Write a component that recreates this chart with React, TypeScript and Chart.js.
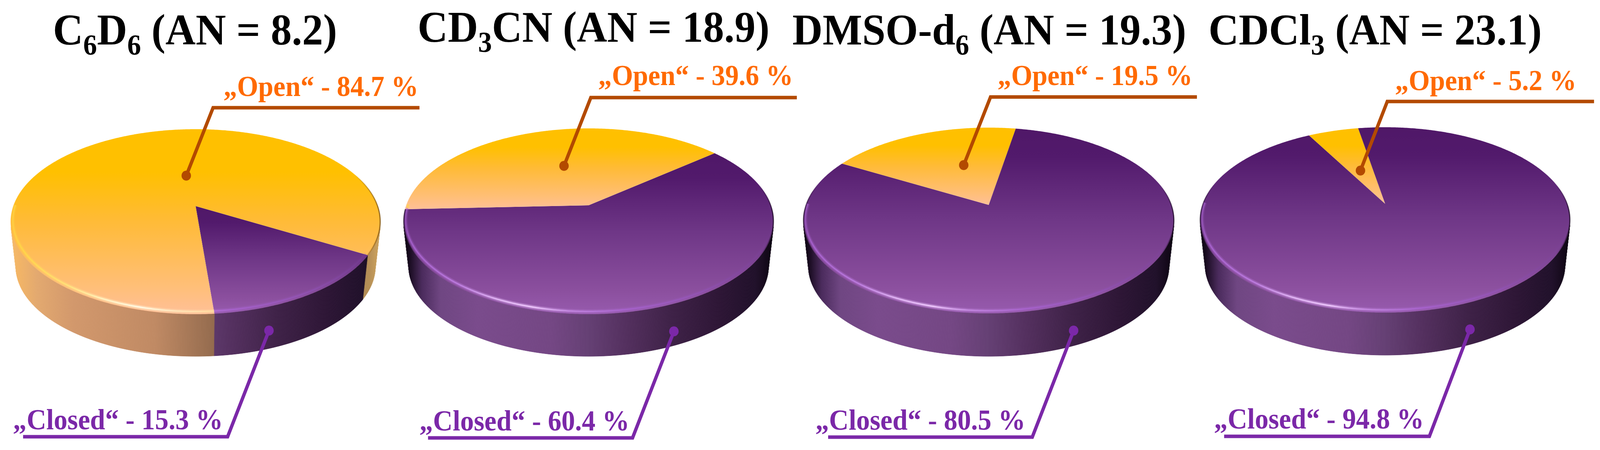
import Chart from "chart.js/auto";
import { useEffect, useRef } from "react";

const solvents = ["C_6D_6", "CD_3CN", "DMSO-d_6", "CDCl_3"];
const acceptorNumbers = ["8.2", "18.9", "19.3", "23.1"];
const closedShare = [15.3, 60.4, 80.5, 94.8];
const openShare = [84.7, 39.6, 19.5, 5.2];
// where the closed slice starts, degrees clockwise from the back of the disc
const rotations = [120, 50.1, 9.9, 350];

const discs = [
  { cx: 524.5, rx: 496.5, top: 331, apexY: 528, rimBottom: 805, wallBottom: 913 },
  { cx: 1580, rx: 497, top: 329, apexY: 526, rimBottom: 805, wallBottom: 913 },
  { cx: 2654, rx: 498, top: 327, apexY: 525, rimBottom: 803, wallBottom: 913 },
  { cx: 3718, rx: 497, top: 326, apexY: 522, rimBottom: 801, wallBottom: 910 },
];

const titleAt = [
  { x: 142, y: 114 },
  { x: 1121, y: 107 },
  { x: 2127, y: 114 },
  { x: 3244, y: 114 },
];
const openCallouts = [
  { x: 600, y: 246.5, lineY: 276, elbow: 572, end: 1126, dotX: 500, dotY: 450 },
  { x: 1606, y: 218.5, lineY: 250, elbow: 1586, end: 2139, dotX: 1514, dotY: 425 },
  { x: 2678, y: 218.5, lineY: 248.5, elbow: 2659, end: 3213, dotX: 2587, dotY: 423 },
  { x: 3745, y: 231.5, lineY: 260, elbow: 3724, end: 4279, dotX: 3652, dotY: 437 },
];
const closedCallouts = [
  { x: 35, y: 1100, lineY: 1119, elbow: 611, end: 62, dotX: 722, dotY: 847 },
  { x: 1126, y: 1103, lineY: 1122, elbow: 1698, end: 1149, dotX: 1809, dotY: 849 },
  { x: 2189, y: 1101, lineY: 1120, elbow: 2771, end: 2223, dotX: 2882, dotY: 847 },
  { x: 3259, y: 1098, lineY: 1118, elbow: 3837, end: 3286, dotX: 3946, dotY: 844 },
];

type Stop = [number, string];
// colour ramps, index 0 is closed and index 1 is open
const faceRamps: Stop[][] = [
  [[0, "#501868"], [0.15, "#521a6c"], [0.49, "#6f3787"], [0.86, "#8c509f"], [1, "#975bae"]],
  [[0, "#ffc000"], [0.23, "#ffc000"], [0.5, "#ffbb38"], [0.85, "#ffbf78"], [1, "#ffc098"]],
];
const wallRamps: Stop[][] = [
  [[0, "#0c0410"], [0.015, "#170a1e"], [0.05, "#4a2a5c"], [0.1, "#6f4682"], [0.2, "#7a4b8c"], [0.4, "#744784"], [0.5, "#654074"], [0.6, "#54305f"], [0.72, "#3f2248"], [0.85, "#2e1636"], [0.95, "#20102a"], [1, "#0c0410"]],
  [[0, "#f5bb6c"], [0.02, "#f3b566"], [0.07, "#e3a96f"], [0.17, "#d2986c"], [0.39, "#c08a64"], [0.55, "#946b4e"], [0.9, "#a27e50"], [0.97, "#b68f56"], [1, "#d2a860"]],
];
const glintRamps: Stop[][] = [
  [[0, "rgba(170,100,210,0.4)"], [0.03, "rgba(170,100,210,0.85)"], [0.15, "rgba(190,125,225,0.9)"], [0.25, "rgba(225,180,245,0.95)"], [0.35, "rgba(235,195,250,1)"], [0.45, "rgba(200,140,230,0.8)"], [0.6, "rgba(170,100,210,0.75)"], [0.8, "rgba(150,85,190,0.5)"], [0.92, "rgba(130,70,170,0.25)"], [1, "rgba(130,70,170,0)"]],
  [[0, "rgba(255,214,70,0.5)"], [0.03, "rgba(255,214,70,0.9)"], [0.15, "rgba(255,225,120,0.95)"], [0.25, "rgba(255,240,190,1)"], [0.35, "rgba(255,248,225,1)"], [0.45, "rgba(255,235,190,0.8)"], [0.6, "rgba(255,220,150,0.7)"], [1, "rgba(255,210,100,0)"]],
];
const edgeRamps: Stop[][] = [
  [[0, "rgba(15,5,20,0.7)"], [0.015, "rgba(15,5,20,0.35)"], [0.04, "rgba(15,5,20,0)"], [0.96, "rgba(15,5,20,0)"], [0.985, "rgba(15,5,20,0.35)"], [1, "rgba(15,5,20,0.7)"]],
  [[0, "rgba(120,80,20,0)"], [0.93, "rgba(120,80,20,0)"], [0.97, "rgba(120,80,20,0.45)"], [1, "rgba(120,80,20,0.8)"]],
];

const PAGE_WIDTH = 4295;
const PAGE_HEIGHT = 1153;
const BOX = { left: -530, top: 300, width: 1060, height: 640 };
const BOTTOM_SCALE = 0.972;

function xRamp(ctx: CanvasRenderingContext2D, left: number, right: number, ramp: Stop[]) {
  const g = ctx.createLinearGradient(left, 0, right, 0);
  ramp.forEach(([f, color]) => g.addColorStop(f, color));
  return g;
}

// every slice is taken from the pie's own arc elements and tilted back in perspective
const tiltedDisc = (i: number) => ({
  id: "tiltedDisc",
  beforeDatasetsDraw(chart: any) {
    const d = discs[i];
    const front = d.rimBottom - d.apexY;
    const back = d.apexY - d.top;
    const k = (front - back) / (front + back);
    const A = front * (1 - k);
    const R = d.rx * Math.sqrt(1 - k * k);
    const apexBottom = d.wallBottom - BOTTOM_SCALE * front;
    const ctx = chart.ctx as CanvasRenderingContext2D;
    const cx = -BOX.left;
    const left = cx - d.rx;
    const right = cx + d.rx;
    const project = (a: number, r: number, scale: number, y0: number) => {
      const w = 1 - k * r * Math.sin(a);
      return [cx + (R * scale * r * Math.cos(a)) / w, y0 - BOX.top + (A * scale * r * Math.sin(a)) / w];
    };
    const trace = (pts: number[][]) => {
      ctx.beginPath();
      pts.forEach((p, n) => (n ? ctx.lineTo(p[0], p[1]) : ctx.moveTo(p[0], p[1])));
    };
    const arcs = chart.getDatasetMeta(0).data;
    const samples = (arc: any) => {
      const steps = Math.ceil((arc.endAngle - arc.startAngle) / 0.008);
      return Array.from({ length: steps + 1 }, (_, n) => arc.startAngle + ((arc.endAngle - arc.startAngle) * n) / steps);
    };

    arcs.forEach((arc: any, slice: number) => {
      const angles = samples(arc);
      const g = xRamp(ctx, left, right, wallRamps[slice]);
      ctx.fillStyle = g;
      ctx.strokeStyle = g;
      ctx.lineWidth = 1;
      for (let n = 0; n < angles.length - 1; n++) {
        const p0 = project(angles[n], 1, 1, d.apexY);
        const p1 = project(angles[n + 1], 1, 1, d.apexY);
        const q0 = project(angles[n], 1, BOTTOM_SCALE, apexBottom);
        const q1 = project(angles[n + 1], 1, BOTTOM_SCALE, apexBottom);
        const facing = (p1[0] - p0[0]) * (q0[1] - p0[1]) - (p1[1] - p0[1]) * (q0[0] - p0[0]);
        if (facing >= 0) continue;
        trace([p0, p1, q1, q0]);
        ctx.closePath();
        ctx.fill();
        ctx.stroke();
      }
    });

    arcs.forEach((arc: any, slice: number) => {
      const rim = samples(arc).map((a: number) => project(a, 1, 1, d.apexY));
      const apex = [cx, d.apexY - BOX.top];
      const ys = [apex[1], ...rim.map((p: number[]) => p[1])];
      const g = ctx.createLinearGradient(0, Math.min(...ys), 0, Math.max(...ys));
      faceRamps[slice].forEach(([f, color]) => g.addColorStop(f, color));
      ctx.fillStyle = g;
      trace([apex, ...rim]);
      ctx.closePath();
      ctx.fill();
    });

    ctx.save();
    ctx.lineCap = "butt";
    ctx.lineJoin = "round";
    arcs.forEach((arc: any, slice: number) => {
      const angles = samples(arc);
      ctx.strokeStyle = xRamp(ctx, left, right, edgeRamps[slice]);
      ctx.lineWidth = 3;
      trace(angles.map((a: number) => project(a, 0.998, 1, d.apexY)));
      ctx.stroke();
      // the glint only runs along the front of the rim; a slice may meet it twice
      const runs: number[][] = [];
      let run: number[] = [];
      angles.forEach((a: number) => {
        if (Math.sin(a) > 0) run.push(a);
        else if (run.length) {
          runs.push(run);
          run = [];
        }
      });
      if (run.length) runs.push(run);
      ctx.strokeStyle = xRamp(ctx, left, right, glintRamps[slice]);
      runs.forEach((part) => {
        const pts = part.map((a) => project(a, 0.988, 1, d.apexY - 3));
        ctx.globalAlpha = 0.35;
        ctx.lineWidth = 10;
        trace(pts);
        ctx.stroke();
        ctx.globalAlpha = 1;
        ctx.lineWidth = 4;
        trace(pts);
        ctx.stroke();
      });
    });
    ctx.restore();
    return false;
  },
});

function Disc({ i }: { i: number }) {
  const canvasRef = useRef<HTMLCanvasElement | null>(null);

  useEffect(() => {
    if (!canvasRef.current) return;
    const chart = new Chart(canvasRef.current, {
      type: "pie",
      data: {
        labels: ["Closed", "Open"],
        datasets: [{ data: [closedShare[i], openShare[i]], borderWidth: 0 }],
      },
      options: {
        responsive: false,
        animation: false,
        events: [],
        rotation: rotations[i],
        plugins: { legend: { display: false }, tooltip: { enabled: false } },
      },
      plugins: [tiltedDisc(i)],
    });
    return () => {
      chart.destroy();
    };
  }, [i]);

  return (
    <canvas
      ref={canvasRef}
      width={BOX.width}
      height={BOX.height}
      style={{ position: "absolute", left: discs[i].cx + BOX.left, top: BOX.top }}
    />
  );
}

const SERIF = "'Liberation Serif', serif";

function Title({ i }: { i: number }) {
  const parts = solvents[i].split(/_(\d)/);
  const drop = 26;
  const spans = parts.map((part, n) =>
    n % 2 === 1 ? (
      <tspan key={n} fontSize={74} dy={drop}>{part}</tspan>
    ) : (
      <tspan key={n} dy={n === 0 ? 0 : -drop}>
        {n === parts.length - 1 ? `${part} (AN = ${acceptorNumbers[i]})` : part}
      </tspan>
    ),
  );
  return (
    <text x={titleAt[i].x} y={titleAt[i].y} fontFamily={SERIF} fontWeight="bold" fontSize={112.5} fill="#000">
      {spans}
    </text>
  );
}

function Callout({ text, at, line, color }: { text: string; at: (typeof openCallouts)[number]; line: string; color: string }) {
  return (
    <g>
      <text x={at.x} y={at.y} fontFamily={SERIF} fontWeight="bold" fontSize={73} fill={color}>{text}</text>
      <polyline
        points={`${at.end},${at.lineY} ${at.elbow},${at.lineY} ${at.dotX},${at.dotY}`}
        fill="none"
        stroke={line}
        strokeWidth={9}
      />
      <circle cx={at.dotX} cy={at.dotY} r={12.7} fill={line} />
    </g>
  );
}

export default function App() {
  // the browser can come up narrower than the reference, so the whole sheet is fitted to its width
  const fit = Math.min(1, window.innerWidth / PAGE_WIDTH);
  return (
    <div style={{ position: "fixed", inset: 0, background: "#fff", overflow: "hidden" }}>
      <div
        style={{
          position: "absolute",
          left: 0,
          top: 0,
          width: PAGE_WIDTH,
          height: PAGE_HEIGHT,
          transform: `scale(${fit}, 1)`,
          transformOrigin: "0 0",
        }}
      >
        {discs.map((_, i) => <Disc key={i} i={i} />)}
        <svg width={PAGE_WIDTH} height={PAGE_HEIGHT} style={{ position: "absolute", left: 0, top: 0 }}>
          {discs.map((_, i) => (
            <g key={i}>
              <Title i={i} />
              <Callout text={`„Open“ - ${openShare[i]} %`} at={openCallouts[i]} line="#b34a00" color="#ff6a00" />
              <Callout text={`„Closed“ - ${closedShare[i]} %`} at={closedCallouts[i]} line="#7b28a8" color="#7b28a8" />
            </g>
          ))}
        </svg>
      </div>
    </div>
  );
}
